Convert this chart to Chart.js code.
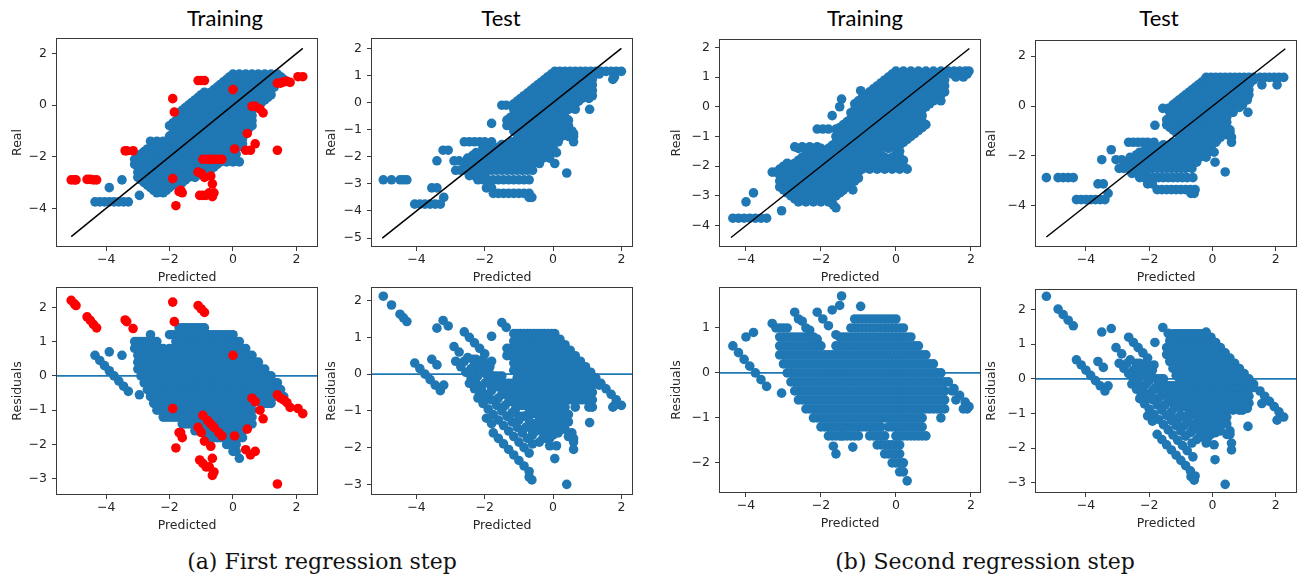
<!DOCTYPE html>
<html>
<head>
<meta charset="utf-8">
<script src="https://cdn.jsdelivr.net/npm/chart.js@4.4.1/dist/chart.umd.min.js"></script>
<style>
  html, body { margin: 0; padding: 0; background: #fff; width: 1299px; height: 577px; overflow: hidden; position: relative; }
  canvas { position: absolute; }
  .title { position: absolute; width: 200px; text-align: center; font-family: Lato, sans-serif; font-size: 22px; line-height: 26px; color: #000; }
  .caption { position: absolute; width: 400px; text-align: center; font-family: "DejaVu Serif", serif; font-size: 22px; line-height: 28px; color: #111; }
</style>
</head>
<body>
<div class="title" style="left:125px;top:5px">Training</div>
<div class="title" style="left:401px;top:5px">Test</div>
<div class="title" style="left:765px;top:5px">Training</div>
<div class="title" style="left:1059px;top:5px">Test</div>
<div class="caption" style="left:122px;top:548px">(a) First regression step</div>
<div class="caption" style="left:785px;top:548px">(b) Second regression step</div>
<script>
// Each row: [real value, [predicted values of the samples with that real value]]
const TRAIN_A = [
  [1.2, [0, 0.2, 0.4, 0.6, 0.8, 1, 1.2, 1.4]],
  [1.1, [-0.1, 0.1, 0.3, 0.5, 0.7, 0.9, 1.1, 1.3, 1.5]],
  [1.0, [-0.2, 0, 0.2, 0.4, 0.6, 0.8, 1, 1.2, 1.4, 1.6]],
  [0.9, [-0.3, -0.1, 0.1, 0.3, 0.5, 0.7, 0.9, 1.1, 1.3]],
  [0.8, [-0.4, -0.2, 0, 0.2, 0.4, 0.6, 0.8, 1, 1.2]],
  [0.7, [-0.5, -0.3, -0.1, 0.1, 0.3, 0.5, 0.7, 0.9, 1.1, 1.3]],
  [0.6, [-0.6, -0.4, -0.2, 0, 0.2, 0.4, 0.6, 0.8, 1, 1.2]],
  [0.5, [-0.9, -0.7, -0.5, -0.3, -0.1, 0.1, 0.3, 0.5, 0.7, 0.9, 1.1]],
  [0.4, [-1, -0.8, -0.6, -0.4, -0.2, 0, 0.2, 0.4, 0.6, 0.8, 1, 1.2]],
  [0.3, [-1.1, -0.9, -0.7, -0.5, -0.3, -0.1, 0.1, 0.3, 0.5, 0.7, 0.9, 1.1]],
  [0.2, [-1.2, -1, -0.8, -0.6, -0.4, -0.2, 0, 0.2, 0.4, 0.6, 0.8, 1]],
  [0.1, [-1.3, -1.1, -0.9, -0.7, -0.5, -0.3, -0.1, 0.1, 0.3, 0.5, 0.7, 0.9]],
  [0.0, [-1.4, -1.2, -1, -0.8, -0.6, -0.4, -0.2, 0, 0.2, 0.4, 0.6]],
  [-0.1, [-1.5, -1.3, -1.1, -0.9, -0.7, -0.5, -0.3, -0.1, 0.1, 0.3, 0.5]],
  [-0.2, [-1.6, -1.4, -1.2, -1, -0.8, -0.6, -0.4, -0.2, 0, 0.2, 0.4, 0.6]],
  [-0.3, [-1.7, -1.5, -1.3, -1.1, -0.9, -0.7, -0.5, -0.3, -0.1, 0.1, 0.3, 0.5]],
  [-0.4, [-1.6, -1.4, -1.2, -1, -0.8, -0.6, -0.4, -0.2, 0, 0.2, 0.4, 0.6]],
  [-0.5, [-1.7, -1.5, -1.3, -1.1, -0.9, -0.7, -0.5, -0.3, -0.1, 0.1, 0.3, 0.5]],
  [-0.6, [-1.8, -1.6, -1.4, -1.2, -1, -0.8, -0.6, -0.4, -0.2, 0, 0.2, 0.4, 0.6]],
  [-0.7, [-1.9, -1.7, -1.5, -1.3, -1.1, -0.9, -0.7, -0.5, -0.3, -0.1, 0.1, 0.3, 0.5]],
  [-0.8, [-2, -1.8, -1.6, -1.4, -1.2, -1, -0.8, -0.6, -0.4, -0.2, 0, 0.2, 0.4, 0.6]],
  [-0.9, [-1.7, -1.5, -1.3, -1.1, -0.9, -0.7, -0.5, -0.3, -0.1, 0.1, 0.3, 0.5]],
  [-1.0, [-1.8, -1.6, -1.4, -1.2, -1, -0.8, -0.6, -0.4, -0.2, 0, 0.2, 0.4]],
  [-1.1, [-1.9, -1.7, -1.5, -1.3, -1.1, -0.9, -0.7, -0.5, -0.3, -0.1, 0.1, 0.3]],
  [-1.2, [-2, -1.8, -1.6, -1.4, -1.2, -1, -0.8, -0.6, -0.4, -0.2, 0, 0.2]],
  [-1.3, [-1.9, -1.7, -1.5, -1.3, -1.1, -0.9, -0.7, -0.5, -0.3, -0.1, 0.1, 0.3]],
  [-1.4, [-2.6, -2.4, -2.2, -2, -1.8, -1.6, -1.4, -1.2, -1, -0.8, -0.6, -0.4, -0.2, 0, 0.2]],
  [-1.5, [-2.5, -2.3, -2.1, -1.9, -1.7, -1.5, -1.3, -1.1, -0.9, -0.7, -0.5, -0.3, -0.1, 0.1, 0.3]],
  [-1.6, [-2.4, -2.2, -2, -1.8, -1.6, -1.4, -1.2, -1, -0.8, -0.6, -0.4, -0.2, 0, 0.2]],
  [-1.7, [-2.7, -2.5, -2.3, -2.1, -1.9, -1.7, -1.5, -1.3, -1.1, -0.9, -0.7, -0.5, -0.3, -0.1, 0.1]],
  [-1.8, [-2.8, -2.6, -2.4, -2.2, -2, -1.8, -1.6, -1.4, -1.2, -1, -0.8, -0.6, -0.4, -0.2, 0]],
  [-1.9, [-2.9, -2.7, -2.5, -2.3, -2.1, -1.9, -1.7, -1.5, -1.3, -1.1, -0.9, -0.7, -0.5, -0.3, -0.1, 0.1]],
  [-2.0, [-3, -2.8, -2.6, -2.4, -2.2, -2, -1.8, -1.6, -1.4, -1.2, -1, -0.8, -0.6, -0.4, -0.2, 0]],
  [-2.1, [-3.1, -2.9, -2.7, -2.5, -2.3, -2.1, -1.9, -1.7, -1.5, -1.3, -1.1, -0.9, -0.7, -0.5, -0.3, -0.1, 0.1]],
  [-2.2, [-3, -2.8, -2.6, -2.4, -2.2, -2, -1.8, -1.6, -1.4, -1.2, -1, -0.8, -0.6, -0.4, -0.2, 0, 0.2]],
  [-2.3, [-3.1, -2.9, -2.7, -2.5, -2.3, -2.1, -1.9, -1.7, -1.5, -1.3, -1.1, -0.9, -0.7, -0.5]],
  [-2.4, [-3, -2.8, -2.6, -2.4, -2.2, -2, -1.8, -1.6, -1.4, -1.2, -1, -0.8, -0.6]],
  [-2.5, [-2.9, -2.7, -2.5, -2.3, -2.1, -1.9, -1.7, -1.5, -1.3, -1.1, -0.9, -0.7]],
  [-2.6, [-3, -2.8, -2.6, -2.4, -2.2, -2, -1.8, -1.6, -1.4, -1.2, -1, -0.8]],
  [-2.7, [-2.9, -2.7, -2.5, -2.3, -2.1, -1.9, -1.7, -1.5, -1.3, -1.1]],
  [-2.8, [-3, -2.8, -2.6, -2.4, -2.2, -2, -1.8, -1.6, -1.4, -1.2]],
  [-2.9, [-3.5, -2.9, -2.7, -2.5, -2.3, -2.1, -1.9, -1.7, -1.5]],
  [-3.0, [-2.8, -2.6, -2.4, -2.2, -2, -1.8, -1.6]],
  [-3.1, [-2.7, -2.5, -2.3, -2.1, -1.9]],
  [-3.2, [-3.9, -2.6, -2.4, -2.2, -2]],
  [-3.3, [-2.5, -2.3, -2.1]],
  [-3.4, [-2.4, -2.2]],
  [-3.5, [-2.95]],
  [-3.75, [-4.35, -4.2, -4.05, -3.9, -3.75, -3.6, -3.45, -3.3]]
];

// Outliers of the first step, [predicted, real]
const OUT_A = [
  [-5.1, -2.9], [-5.0, -2.9], [-4.95, -2.9], [-4.6, -2.88], [-4.5, -2.88], [-4.4, -2.9], [-4.3, -2.9],
  [-3.4, -1.77], [-3.35, -1.77], [-3.15, -1.77],
  [-1.9, 0.25], [-1.85, -0.27], [-1.1, 0.95], [-1.0, 0.95], [-0.9, 0.95], [0.0, 0.6],
  [1.4, 0.85], [1.5, 0.85], [1.6, 0.9], [1.7, 0.92], [1.8, 0.88], [2.05, 1.1], [2.2, 1.1],
  [0.6, -0.05], [0.7, -0.05], [0.85, -0.15], [0.95, -0.3],
  [0.45, -1.1], [0.05, -1.7], [0.4, -1.75], [0.55, -1.75], [0.7, -1.5], [1.4, -1.75],
  [-1.9, -2.85], [-1.8, -3.9], [-1.7, -3.35], [-1.6, -3.4], [-1.65, -3.3],
  [-0.95, -2.1], [-0.8, -2.1], [-0.7, -2.1], [-0.6, -2.1], [-0.45, -2.1], [-0.35, -2.1],
  [-1.1, -2.6], [-1.0, -2.65], [-0.9, -2.8], [-0.7, -2.75], [-0.65, -3.05], [-0.75, -3.4],
  [-0.6, -3.4], [-0.85, -3.5], [-0.95, -3.5], [-1.05, -3.5], [-0.65, -3.55]
];

const TEST_A = [
  [1.15, [0.05, 0.2, 0.35, 0.5, 0.65, 0.8, 0.95, 1.1, 1.25, 1.4, 1.55, 1.7, 1.85, 2.0]],
  [1.05, [-0.05, 0.15, 0.35, 0.55, 0.75, 0.95, 1.15, 1.35]],
  [0.95, [-0.15, 0.05, 0.25, 0.45, 0.65, 0.85, 1.05, 1.8]],
  [0.85, [-0.25, -0.05, 0.15, 0.35, 0.55, 0.75, 0.95, 1.15, 1.75]],
  [0.75, [-0.35, -0.15, 0.05, 0.25, 0.45, 0.65, 0.85, 1.05]],
  [0.65, [-0.45, -0.25, -0.05, 0.15, 0.35, 0.55, 0.75, 0.95, 1.15]],
  [0.55, [-0.55, -0.35, -0.15, 0.05, 0.25, 0.45, 0.65, 0.85, 1.05]],
  [0.45, [-0.65, -0.45, -0.25, -0.05, 0.15, 0.35, 0.55, 0.75, 0.95, 1.15]],
  [0.35, [-0.75, -0.55, -0.35, -0.15, 0.05, 0.25, 0.45, 0.65, 0.85, 1.05]],
  [0.25, [-0.85, -0.65, -0.45, -0.25, -0.05, 0.15, 0.35, 0.55, 0.75, 0.95, 1.15]],
  [0.15, [-0.95, -0.75, -0.55, -0.35, -0.15, 0.05, 0.25, 0.45, 0.65, 0.85, 1.05]],
  [0.05, [-1.05, -0.85, -0.65, -0.45, -0.25, -0.05, 0.15, 0.35, 0.55, 0.75]],
  [-0.05, [-1.15, -0.95, -0.75, -0.55, -0.35, -0.15, 0.05, 0.25, 0.45, 0.65]],
  [-0.1, [-1.5, -1.37]],
  [-0.15, [-1.05, -0.85, -0.65, -0.45, -0.25, -0.05, 0.15, 0.35, 0.55]],
  [-0.25, [-1.15, -0.95, -0.75, -0.55, -0.35, -0.15, 0.05, 0.25, 0.45, 0.65, 1.07]],
  [-0.35, [-1.05, -0.85, -0.65, -0.45, -0.25, -0.05, 0.15, 0.35]],
  [-0.45, [-1.15, -0.95, -0.75, -0.55, -0.35, -0.15, 0.05, 0.25]],
  [-0.55, [-1.25, -1.05, -0.85, -0.65, -0.45, -0.25, -0.05, 0.15, 0.35]],
  [-0.65, [-1.35, -1.15, -0.95, -0.75, -0.55, -0.35, -0.15, 0.05, 0.25, 0.45]],
  [-0.75, [-1.25, -1.05, -0.85, -0.65, -0.45, -0.25, -0.05, 0.15, 0.35]],
  [-0.77, [-1.8]],
  [-0.85, [-1.35, -1.15, -0.95, -0.75, -0.55, -0.35, -0.15, 0.05, 0.25, 0.45]],
  [-0.95, [-1.05, -0.85, -0.65, -0.45, -0.25, -0.05, 0.15, 0.35]],
  [-1.05, [-1.15, -0.95, -0.75, -0.35, -0.15, 0.05, 0.25, 0.55]],
  [-1.15, [-1.05, -0.85, -0.65, -0.25, -0.05, 0.15, 0.35, 0.6]],
  [-1.25, [-0.95, -0.75, -0.55, -0.35, -0.15, 0.05, 0.25, 0.45, 0.6]],
  [-1.35, [-1.05, -0.85, -0.65, -0.45, -0.25, -0.05, 0.15]],
  [-1.45, [-2.6, -2.45, -2.3, -2.15, -2.0, -1.8, -1.2, -1.0, -0.8, -0.5, -0.25, -0.05, 0.15, 0.6]],
  [-1.55, [-1.5, -1.3, -1.1, -0.9, -0.7, -0.45, -0.2, 0.0]],
  [-1.65, [-2.05, -1.85, -1.6, -1.4, -1.2, -1.0, -0.8, -0.6, -0.4, -0.2, 0.0]],
  [-1.75, [-1.95, -1.7, -1.5, -1.3, -1.1, -0.9, -0.65, -0.35, -0.1]],
  [-1.76, [-3.22, -3.07]],
  [-1.85, [-2.25, -2.05, -1.85, -1.65, -1.45, -1.25, -1.0, -0.75, -0.5, -0.3, -0.1, 0.1]],
  [-1.95, [-2.35, -2.15, -1.95, -1.6, -1.4, -1.2, -0.8, -0.6, -0.2]],
  [-2.05, [-2.5, -2.3, -2.1, -1.9, -1.7, -1.5, -1.3, -1.1, -0.9, -0.7, -0.5, -0.3, -0.1]],
  [-2.15, [-3.4, -2.9, -2.75, -2.2, -1.8, -1.0, -0.6]],
  [-2.25, [-2.6, -2.4, -2.2, -2.0, -1.8, -1.6, -1.4, -1.2, -1.0, -0.8, -0.6, -0.4, 0.05]],
  [-2.5, [-2.85, -2.7, -2.55, -2.4, -2.25, -2.1, -1.95, -1.8, -1.65, -1.5, -1.35, -1.2, -1.05, -0.9, -0.75, -0.6]],
  [-2.6, [0.4]],
  [-2.7, [-2.45, -2.3, -2.15, -2.0]],
  [-2.85, [-4.97, -4.73, -4.48, -4.38, -4.28, -2.2, -2.05, -1.9, -1.75, -1.6, -1.45, -1.3, -1.15, -1.0, -0.85, -0.7]],
  [-3.15, [-3.55, -3.4, -1.95, -1.8]],
  [-3.35, [-1.75, -1.6, -1.45, -1.3, -1.15, -1.0, -0.85, -0.7]],
  [-3.5, [-3.2, -0.7, -0.62]],
  [-3.75, [-4.05, -3.9, -3.75, -3.6, -3.45, -3.3]]
];

const TRAIN_B = [
  [1.2, [0, 0.2, 0.4, 0.6, 0.8, 1, 1.2, 1.4, 1.55, 1.7, 1.85, 1.95]],
  [1.1, [-0.1, 0.1, 0.3, 0.5, 0.7, 0.9, 1.1, 1.3, 1.5, 1.9]],
  [1.0, [-0.2, 0, 0.2, 0.4, 0.6, 0.8, 1, 1.2, 1.6, 1.8]],
  [0.9, [-0.3, -0.1, 0.1, 0.3, 0.5, 0.7, 0.9, 1.1, 1.3]],
  [0.8, [-0.4, -0.2, 0, 0.2, 0.4, 0.6, 0.8, 1, 1.2]],
  [0.7, [-0.5, -0.3, -0.1, 0.1, 0.3, 0.5, 0.7, 0.9, 1.1, 1.3]],
  [0.6, [-0.6, -0.4, -0.2, 0, 0.2, 0.4, 0.6, 0.8, 1, 1.2]],
  [0.54, [-0.94]],
  [0.5, [-0.7, -0.5, -0.3, -0.1, 0.1, 0.3, 0.5, 0.7, 0.9, 1.1, 1.3]],
  [0.4, [-0.8, -0.6, -0.4, -0.2, 0, 0.2, 0.4, 0.6, 0.8, 1, 1.2]],
  [0.3, [-0.9, -0.7, -0.5, -0.3, -0.1, 0.1, 0.3, 0.5, 0.7, 0.9, 1.1]],
  [0.26, [-1.45]],
  [0.2, [-1, -0.8, -0.6, -0.4, -0.2, 0, 0.2, 0.4, 0.6, 0.8, 1, 1.2]],
  [0.1, [-1.1, -0.9, -0.7, -0.5, -0.3, -0.1, 0.1, 0.3, 0.5, 0.7, 0.9]],
  [0.0, [-1.5, -1, -0.8, -0.6, -0.4, -0.2, 0, 0.2, 0.4, 0.6, 0.8]],
  [-0.1, [-1.1, -0.9, -0.7, -0.5, -0.3, -0.1, 0.1, 0.3, 0.5, 0.7]],
  [-0.2, [-1.2, -1, -0.8, -0.6, -0.4, -0.2, 0, 0.2, 0.4, 0.6]],
  [-0.3, [-1.7, -1.1, -0.9, -0.7, -0.5, -0.3, -0.1, 0.1, 0.3, 0.5, 0.7]],
  [-0.4, [-1.2, -1, -0.8, -0.6, -0.4, -0.2, 0, 0.2, 0.4, 0.6]],
  [-0.5, [-1.3, -1.1, -0.9, -0.7, -0.5, -0.3, -0.1, 0.1, 0.3, 0.5, 0.7]],
  [-0.6, [-1.4, -1.2, -1, -0.8, -0.6, -0.4, -0.2, 0, 0.2, 0.4, 0.6, 0.8]],
  [-0.7, [-1.5, -1.3, -1.1, -0.9, -0.7, -0.5, -0.3, -0.1, 0.1, 0.3, 0.5, 0.7]],
  [-0.75, [-2.1, -1.95, -1.8, -1.6]],
  [-0.8, [-1.4, -1.2, -1, -0.8, -0.6, -0.4, -0.2, 0, 0.2, 0.4, 0.6]],
  [-0.9, [-1.5, -1.3, -1.1, -0.9, -0.7, -0.5, -0.3, -0.1, 0.1, 0.3, 0.5]],
  [-1.0, [-1.6, -1.4, -1.2, -1, -0.8, -0.6, -0.4, -0.2, 0, 0.2, 0.4]],
  [-1.1, [-1.5, -1.3, -1.1, -0.9, -0.7, -0.5, -0.3, -0.1, 0.1, 0.3]],
  [-1.2, [-1.6, -1.4, -1.2, -1, -0.8, -0.6, -0.4, -0.2, 0, 0.2]],
  [-1.3, [-1.7, -1.5, -1.3, -1.1, -0.9, -0.7, -0.5, -0.3, -0.1, 0.1]],
  [-1.35, [-2.7, -2.5, -2.3, -2.1]],
  [-1.4, [-2.6, -2.4, -2.2, -2, -1.8, -1.6, -1.4, -1.2, -1, -0.8, -0.6, -0.4, -0.2, 0]],
  [-1.5, [-2.3, -2.1, -1.9, -1.7, -1.5, -1.3, -1.1, -0.9, -0.7, -0.5, 0.1]],
  [-1.6, [-2.4, -2.2, -2, -1.8, -1.6, -1.4, -1.2, -1, -0.8, -0.6, -0.4, 0]],
  [-1.7, [-2.5, -2.3, -2.1, -1.9, -1.7, -1.5, -1.3, -1.1, -0.9, -0.7, -0.5, -0.3, -0.1, 0.1]],
  [-1.8, [-2.6, -2.4, -2.2, -2, -1.8, -1.6, -1.4, -1.2, -1, -0.8, -0.6, -0.4, -0.2, 0, 0.2]],
  [-1.9, [-2.9, -2.7, -2.5, -2.3, -2.1, -1.9, -1.7, -1.5, -1.3, -1.1, -0.9, -0.7, -0.5, -0.3, -0.1, 0.1]],
  [-2.0, [-3, -2.8, -2.6, -2.4, -2.2, -2, -1.8, -1.6, -1.4, -1.2, -1, -0.8, -0.6, -0.4, -0.2, 0, 0.2]],
  [-2.1, [-3.1, -2.9, -2.7, -2.5, -2.3, -2.1, -1.9, -1.7, -1.5, -1.3, -1.1, -0.9, -0.7, -0.5, -0.3, -0.1, 0.1, 0.3]],
  [-2.2, [-3.3, -3.2, -3, -2.8, -2.6, -2.4, -2.2, -2, -1.8, -1.6, -1.4, -1.2, -1]],
  [-2.3, [-3.1, -2.9, -2.7, -2.5, -2.3, -2.1, -1.9, -1.7, -1.5, -1.3, -1.1]],
  [-2.4, [-3, -2.8, -2.6, -2.4, -2.2, -2, -1.8, -1.6, -1.4, -1.2, -1]],
  [-2.5, [-3.1, -2.9, -2.7, -2.5, -2.3, -2.1, -1.9, -1.7, -1.5, -1.3, -1.1]],
  [-2.6, [-3, -2.8, -2.6, -2.4, -2.2, -2, -1.8, -1.6, -1.4, -1.2]],
  [-2.7, [-3.1, -2.9, -2.7, -2.5, -2.3, -2.1, -1.9, -1.7, -1.5, -1.3]],
  [-2.8, [-3, -2.8, -2.6, -2.4, -2.2, -2, -1.8, -1.6, -1.4, -1.15]],
  [-2.85, [-1.45]],
  [-2.9, [-3.8, -2.9, -2.7, -2.5, -2.3, -2.1, -1.9, -1.7, -1.5]],
  [-3.0, [-2.8, -2.6, -2.4, -2.2, -2, -1.8, -1.6]],
  [-3.1, [-2.7, -2.5, -2.3, -2.1, -1.9, -1.7]],
  [-3.2, [-4, -2.6, -2.4, -2.2, -2, -1.8]],
  [-3.3, [-1.67]],
  [-3.4, [-1.6]],
  [-3.5, [-3.05]],
  [-3.75, [-4.35, -4.2, -4.05, -3.9, -3.75, -3.6, -3.45]]
];

const TEST_B = [
  [1.15, [-0.2, -0.05, 0.1, 0.25, 0.4, 0.55, 0.7, 0.85, 1.0, 1.15, 1.3, 1.5, 1.65, 1.8, 1.95, 2.1, 2.25]],
  [1.05, [-0.25, -0.05, 0.15, 0.35, 0.55, 0.75, 0.95, 1.15, 1.3]],
  [0.95, [-0.35, -0.15, 0.05, 0.25, 0.45, 0.65, 0.85, 1.05, 1.2]],
  [0.85, [-0.45, -0.25, -0.05, 0.15, 0.35, 0.55, 0.75, 0.95, 1.15, 1.56, 2.04]],
  [0.75, [-0.55, -0.35, -0.15, 0.05, 0.25, 0.45, 0.65, 0.85, 1.05]],
  [0.65, [-0.65, -0.45, -0.25, -0.05, 0.15, 0.35, 0.55, 0.75, 0.95, 1.15]],
  [0.55, [-0.75, -0.55, -0.35, -0.15, 0.05, 0.25, 0.45, 0.65, 0.85, 1.05]],
  [0.45, [-0.85, -0.65, -0.45, -0.25, -0.05, 0.15, 0.35, 0.55, 0.75, 0.95, 1.15]],
  [0.35, [-0.95, -0.75, -0.55, -0.35, -0.15, 0.05, 0.25, 0.45, 0.65, 0.85, 1.05]],
  [0.25, [-1.05, -0.85, -0.65, -0.45, -0.25, -0.05, 0.15, 0.35, 0.55, 0.75, 0.95, 1.1]],
  [0.15, [-1.15, -0.95, -0.75, -0.55, -0.35, -0.15, 0.05, 0.25, 0.45, 0.65, 0.85]],
  [0.05, [-1.25, -1.05, -0.85, -0.65, -0.45, -0.25, -0.05, 0.15, 0.35, 0.55, 0.75, 0.95]],
  [-0.05, [-1.15, -0.95, -0.75, -0.55, -0.35, -0.15, 0.05, 0.25, 0.45, 0.65, 0.85]],
  [-0.09, [-1.57, -1.4]],
  [-0.15, [-1.25, -1.05, -0.85, -0.65, -0.45, -0.25, -0.05, 0.15, 0.35, 0.55]],
  [-0.25, [-1.35, -1.15, -0.95, -0.75, -0.55, -0.35, -0.15, 0.05, 0.25, 0.45, 0.65, 1.12]],
  [-0.35, [-1.25, -1.05, -0.85, -0.65, -0.45, -0.25, -0.05, 0.15, 0.35]],
  [-0.45, [-1.35, -1.15, -0.95, -0.75, -0.55, -0.35, -0.15, 0.05, 0.25, 0.45]],
  [-0.55, [-1.45, -1.25, -1.05, -0.85, -0.65, -0.45, -0.25, -0.05, 0.15, 0.35]],
  [-0.65, [-1.35, -1.15, -0.95, -0.75, -0.55, -0.35, -0.15, 0.05, 0.25, 0.45]],
  [-0.75, [-1.45, -1.25, -1.05, -0.85, -0.65, -0.45, -0.25, -0.05, 0.15, 0.35]],
  [-0.77, [-1.82]],
  [-0.85, [-1.35, -1.15, -0.95, -0.75, -0.55, -0.35, -0.15, 0.05, 0.25, 0.45]],
  [-0.95, [-1.25, -1.05, -0.85, -0.65, -0.45, -0.25, -0.05, 0.15, 0.35, 0.55]],
  [-1.05, [-1.15, -0.95, -0.75, -0.35, -0.15, 0.05, 0.25, 0.55]],
  [-1.15, [-1.05, -0.85, -0.65, -0.45, -0.25, -0.05, 0.15, 0.45]],
  [-1.25, [-0.95, -0.75, -0.55, -0.35, -0.15, 0.05, 0.25, 0.6]],
  [-1.35, [-1.05, -0.85, -0.65, -0.45, -0.25, -0.05, 0.15]],
  [-1.45, [-2.65, -2.5, -2.35, -2.2, -2.05, -1.85, -1.25, -1.05, -0.85, -0.55, -0.3, -0.1, 0.1, 0.6]],
  [-1.55, [-1.55, -1.35, -1.15, -0.95, -0.75, -0.5, -0.25, -0.05]],
  [-1.65, [-2.1, -1.9, -1.65, -1.45, -1.25, -1.05, -0.85, -0.65, -0.45, -0.25, -0.05]],
  [-1.75, [-3.2, -2.0, -1.75, -1.55, -1.35, -1.15, -0.95, -0.7, -0.4, -0.15]],
  [-1.85, [-2.3, -2.1, -1.9, -1.7, -1.5, -1.3, -1.05, -0.8, -0.55, -0.35, -0.15, 0.05]],
  [-1.95, [-2.4, -2.2, -2.0, -1.65, -1.45, -1.25, -0.85, -0.65, -0.25]],
  [-2.05, [-2.6, -2.4, -2.2, -2.0, -1.8, -1.6, -1.4, -1.2, -1.0, -0.8, -0.6, -0.4, -0.2]],
  [-2.15, [-3.5, -3.05, -2.87, -2.3, -1.85, -1.05, -0.65]],
  [-2.25, [-2.7, -2.5, -2.3, -2.1, -1.9, -1.7, -1.5, -1.3, -1.1, -0.9, -0.7, -0.5, 0.08]],
  [-2.5, [-2.95, -2.8, -2.65, -2.5, -2.35, -2.2, -2.05, -1.9, -1.75, -1.6, -1.45, -1.3, -1.15, -1.0, -0.85, -0.65]],
  [-2.64, [0.4]],
  [-2.7, [-2.55, -2.4, -2.25, -2.1]],
  [-2.87, [-5.25, -4.88, -4.72, -4.56, -4.4, -2.3, -2.15, -2.0, -1.85, -1.7, -1.55, -1.4, -1.25, -1.1, -0.95, -0.8, -0.62]],
  [-3.12, [-3.62, -3.45, -2.05, -1.9]],
  [-3.35, [-1.75, -1.6, -1.45, -1.3, -1.15, -1.0, -0.85, -0.7, -0.55]],
  [-3.5, [-3.3, -0.68, -0.58]],
  [-3.75, [-4.3, -4.15, -4.0, -3.85, -3.7, -3.55, -3.4]]
];

// Ends of the y = x reference lines
const DIAG_TRAIN_A = [-5.1, 2.2];
const DIAG_TEST_A = [-5.0, 2.0];
const DIAG_TRAIN_B = [-4.4, 1.96];
const DIAG_TEST_B = [-5.25, 2.3];

// Tick labels
const X_TICKS = [-4, -2, 0, 2];
const Y_TICKS_EVEN = [-4, -2, 0, 2];
const Y_TICKS_TEST_A = [-5, -4, -3, -2, -1, 0, 1, 2];
const Y_TICKS_TRAIN_B = [-4, -3, -2, -1, 0, 1, 2];
const Y_TICKS_RES = [-3, -2, -1, 0, 1, 2];
const Y_TICKS_RES_B = [-2, -1, 0, 1];

const BLUE = '#1f77b4';
const RED = '#ff0000';
const TEXT = '#262626';
const AXIS = '#3a3a3a';
const FONT = { family: 'DejaVu Sans', size: 12.5 };
const DOT = 4.8;
const PAD_T = 4, PAD_R = 4, XH = 42;

// Panel layout: plot box in page pixels, axis limits
const PANELS = [
  { box: [56, 38, 318, 247],  yw: 50, xr: [-5.58, 2.68], yr: [-5.5, 2.6],   yt: Y_TICKS_EVEN,    label: 'Real', rows: TRAIN_A, red: OUT_A, diag: DIAG_TRAIN_A },
  { box: [371, 38, 633, 247], yw: 51, xr: [-5.33, 2.34], yr: [-5.33, 2.38], yt: Y_TICKS_TEST_A,  label: 'Real', rows: TEST_A, diag: DIAG_TEST_A },
  { box: [719, 39, 981, 247], yw: 54, xr: [-4.72, 2.27], yr: [-4.72, 2.28], yt: Y_TICKS_TRAIN_B, label: 'Real', rows: TRAIN_B, diag: DIAG_TRAIN_B },
  { box: [1035, 40, 1297, 247], yw: 55, xr: [-5.61, 2.67], yr: [-5.65, 2.65], yt: Y_TICKS_EVEN,  label: 'Real', rows: TEST_B, diag: DIAG_TEST_B },
  { box: [56, 287, 318, 495],  yw: 50, xr: [-5.58, 2.68], yr: [-3.47, 2.59], yt: Y_TICKS_RES,   label: 'Residuals', rows: TRAIN_A, red: OUT_A, resid: true },
  { box: [371, 287, 633, 495], yw: 51, xr: [-5.33, 2.34], yr: [-3.29, 2.37], yt: Y_TICKS_RES,   label: 'Residuals', rows: TEST_A, resid: true },
  { box: [719, 287, 981, 493], yw: 54, xr: [-4.72, 2.27], yr: [-2.67, 1.91], yt: Y_TICKS_RES_B, label: 'Residuals', rows: TRAIN_B, resid: true },
  { box: [1035, 289, 1297, 493], yw: 55, xr: [-5.61, 2.67], yr: [-3.29, 2.59], yt: Y_TICKS_RES, label: 'Residuals', rows: TEST_B, resid: true }
];

function rowPoints(rows, resid) {
  return rows.flatMap(([real, preds]) => preds.map(p => ({ x: p, y: resid ? real - p : real })));
}

function pairPoints(pairs, resid) {
  return pairs.map(([p, real]) => ({ x: p, y: resid ? real - p : real }));
}

const fmt = v => (v < 0 ? '\u2212' + Math.abs(v) : String(v));

// Closed box around the plot area, like matplotlib spines
const frame = {
  id: 'frame',
  afterDraw(chart) {
    const a = chart.chartArea, c = chart.ctx;
    c.save();
    c.strokeStyle = AXIS;
    c.lineWidth = 1;
    c.strokeRect(a.left + 0.5, a.top + 0.5, a.right - a.left - 1, a.bottom - a.top - 1);
    c.restore();
  }
};

function makeChart(p) {
  const [l, t, r, b] = p.box;
  const w = r - l + p.yw + PAD_R, h = b - t + PAD_T + XH;
  const canvas = document.createElement('canvas');
  canvas.width = w; canvas.height = h;
  canvas.style.left = (l - p.yw) + 'px';
  canvas.style.top = (t - PAD_T) + 'px';
  canvas.style.width = w + 'px';
  canvas.style.height = h + 'px';
  document.body.appendChild(canvas);

  const datasets = [{ data: rowPoints(p.rows, p.resid), backgroundColor: BLUE, borderWidth: 0, pointRadius: DOT, order: 2 }];
  if (p.red) datasets.push({ data: pairPoints(p.red, p.resid), backgroundColor: RED, borderWidth: 0, pointRadius: DOT, order: 1 });
  if (p.resid) {
    datasets.push({ data: [{ x: p.xr[0], y: 0 }, { x: p.xr[1], y: 0 }], showLine: true, borderColor: BLUE, borderWidth: 1.6, pointRadius: 0, order: 0 });
  } else {
    const [d0, d1] = p.diag;
    datasets.push({ data: [{ x: d0, y: d0 }, { x: d1, y: d1 }], showLine: true, borderColor: '#000', borderWidth: 1.5, pointRadius: 0, order: 0 });
  }

  new Chart(canvas, {
    type: 'scatter',
    data: { datasets },
    options: {
      responsive: false,
      animation: false,
      events: [],
      layout: { autoPadding: false, padding: { top: PAD_T, right: PAD_R, left: 0, bottom: 0 } },
      plugins: { legend: { display: false }, tooltip: { enabled: false } },
      scales: {
        x: {
          type: 'linear', min: p.xr[0], max: p.xr[1],
          afterBuildTicks: s => { s.ticks = X_TICKS.map(v => ({ value: v })); },
          afterFit: s => { s.height = XH; s.paddingLeft = 0; s.paddingRight = 0; },
          ticks: { font: FONT, color: TEXT, padding: 1, maxRotation: 0, autoSkip: false, callback: fmt },
          grid: { drawOnChartArea: false, tickLength: 4, color: AXIS },
          border: { display: false },
          title: { display: true, text: 'Predicted', font: FONT, color: TEXT, padding: { top: 0, bottom: 4 } }
        },
        y: {
          type: 'linear', min: p.yr[0], max: p.yr[1],
          afterBuildTicks: s => { s.ticks = p.yt.map(v => ({ value: v })); },
          afterFit: s => { s.width = p.yw; s.paddingTop = 0; s.paddingBottom = 0; },
          ticks: { font: FONT, color: TEXT, padding: 5, autoSkip: false, callback: fmt },
          grid: { drawOnChartArea: false, tickLength: 4, color: AXIS },
          border: { display: false },
          title: { display: true, text: p.label, font: FONT, color: TEXT, padding: { top: 4, bottom: 0 } }
        }
      }
    },
    plugins: [frame]
  });
}

PANELS.forEach(makeChart);
</script>
</body>
</html>
